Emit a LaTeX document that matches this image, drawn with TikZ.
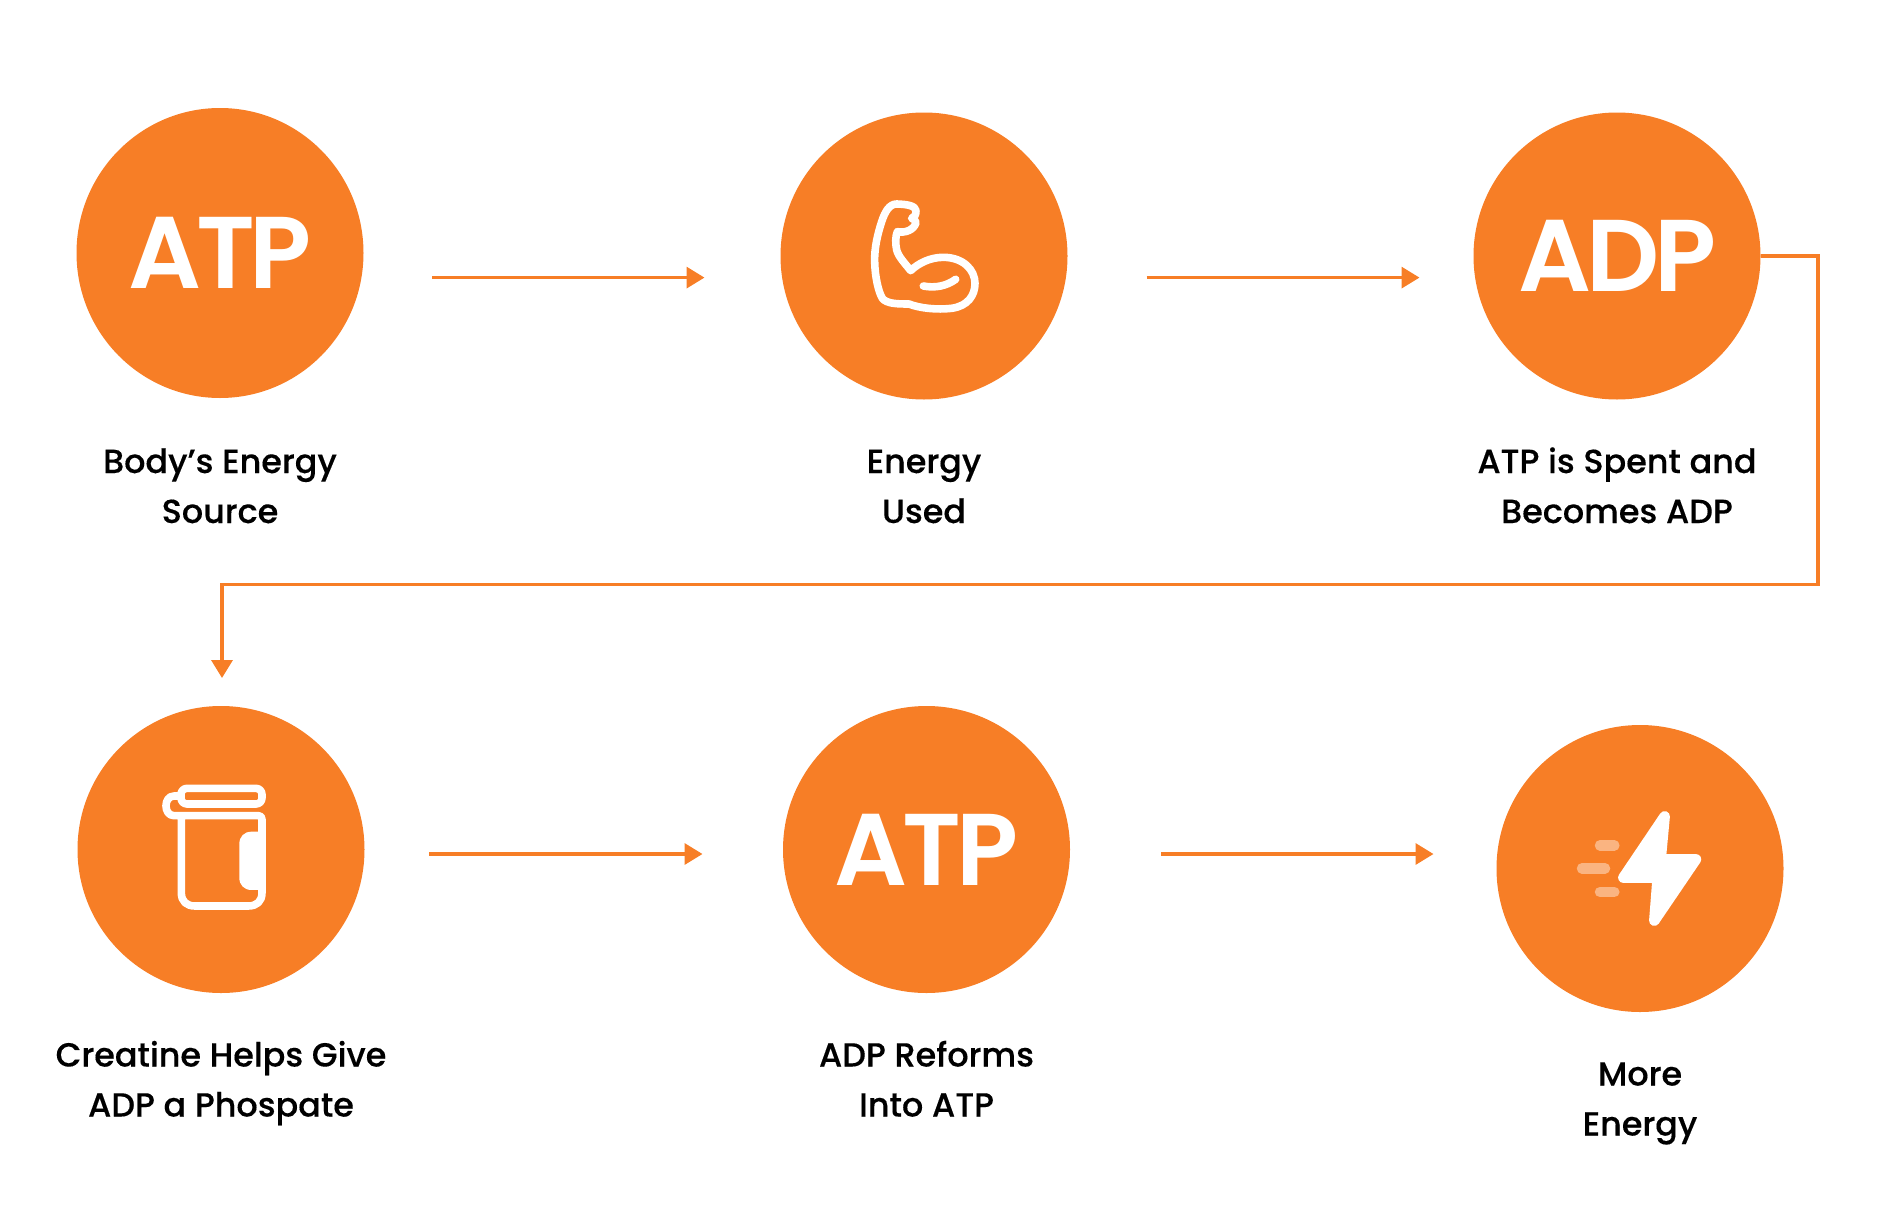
\documentclass[tikz,border=0pt]{standalone}
\usepackage{fontspec}
\setmainfont{Poppins}[Ligatures=TeX]
\newfontfamily\labfont{Poppins Medium}[FakeBold=0.25]
\newfontfamily\bigfont{Poppins SemiBold}[LetterSpace=-5]
\usetikzlibrary{arrows.meta,shapes.geometric}
\definecolor{brand}{HTML}{F77E26}
\tikzset{
 stepcircle/.style={ellipse,fill=brand,minimum width=287pt,minimum height=287pt,inner sep=0pt,text=white,font=\bigfont\fontsize{102}{102}\selectfont},
 lab/.style={align=center,text=black,inner sep=0pt,font=\labfont\fontsize{33.4}{50}\selectfont},
 flow/.style={draw=brand,line width=3.4pt,-{Triangle[length=18pt,width=21pt,fill=brand]}},
 icon/.style={draw=white,line width=7.6pt,line join=round,line cap=round},
}
\begin{document}
\begin{tikzpicture}[x=1pt,y=-1pt]
\useasboundingbox (0,0) rectangle (1904,1226);
\node[stepcircle,minimum height=290pt] (c1) at (220,253) {ATP};
\node[stepcircle] (c2) at (924,256) {};
\node[stepcircle] (c3) at (1617,256) {ADP};
\node[stepcircle] (c4) at (221,849.5) {};
\node[stepcircle] (c5) at (926.5,849.5) {ATP};
\node[stepcircle] (c6) at (1640,868.5) {};
\node[lab] (l1) at (220,488) {\strut Body’s Energy\\\strut Source};
\node[lab] (l2) at (924,488) {\strut Energy\\\strut Used};
\node[lab] (l3) at (1617,488) {\strut ATP is Spent and\\\strut Becomes ADP};
\node[lab] (l4) at (221,1081.5) {\strut Creatine Helps Give\\\strut ADP a Phospate};
\node[lab] (l5) at (926.5,1081.5) {\strut ADP Reforms\\\strut Into ATP};
\node[lab] (l6) at (1640,1100.5) {\strut More\\\strut Energy};
\coordinate (a1s) at (432,277.6); \coordinate (a1e) at (704.5,277.6);
\coordinate (a2s) at (1146.5,277.6); \coordinate (a2e) at (1419.5,277.6);
\coordinate (a4s) at (429,854); \coordinate (a4e) at (702.5,854);
\coordinate (a5s) at (1161,854); \coordinate (a5e) at (1433.5,854);
\coordinate (b1) at (1818,256); \coordinate (b2) at (1818,584.6);
\coordinate (b3) at (222,584.6); \coordinate (b4) at (222,678);
\draw[flow] (a1s) -- (a1e);
\draw[flow] (a2s) -- (a2e);
\draw[flow] (a4s) -- (a4e);
\draw[flow] (a5s) -- (a5e);
\draw[flow] (c3.east) -- (b1) -- (b2) -- (b3) -- (b4);
% muscle
\begin{scope}[shift={(840,180)},x=0.3333pt,y=-0.3333pt]
\draw[icon] (212,272) .. controls (195,250) and (175,230) .. (170,210)
 .. controls (166,190) and (166,170) .. (172,155)
 .. controls (195,160) and (222,150) .. (228,128)
 .. controls (228,122) and (222,118) .. (215,115)
 .. controls (224,112) and (228,105) .. (228,92)
 .. controls (226,78) and (205,73) .. (170,72)
 .. controls (148,72) and (135,95) .. (125,125)
 .. controls (112,165) and (103,205) .. (104,245)
 .. controls (105,290) and (115,335) .. (127,355)
 .. controls (140,372) and (175,372) .. (207,372)
 .. controls (240,385) and (290,390) .. (335,385)
 .. controls (385,378) and (405,345) .. (405,310)
 .. controls (405,270) and (370,232) .. (310,232)
 .. controls (270,232) and (235,250) .. (212,272) -- cycle;
\draw[icon] (250,318) .. controls (285,325) and (320,318) .. (347,298);
\end{scope}
% jar
\begin{scope}[shift={(150,770)},x=0.3333pt,y=-0.3333pt]
\draw[icon,rounded corners=6pt] (93,55) rectangle (336,102);
\draw[icon] (93,78) -- (72,78) .. controls (40,78) and (40,137) .. (72,137) -- (325,137)
 .. controls (332,137) and (336,141) .. (336,148) -- (336,368)
 .. controls (336,395) and (320,408) .. (295,408) -- (135,408)
 .. controls (110,408) and (94,395) .. (94,368) -- (94,137);
\fill[white] (336,185) -- (305,185) .. controls (282,185) and (268,200) .. (268,222) -- (268,323)
 .. controls (268,345) and (282,360) .. (305,360) -- (336,360) -- cycle;
\end{scope}
% bolt
\begin{scope}[shift={(1560,800)},x=0.3333pt,y=-0.3333pt]
\filldraw[draw=white,fill=white,line width=10.5pt,line join=round] (314,49) -- (302,178) -- (408,178) -- (283,362) -- (293,233) -- (190,233) -- cycle;
\draw[white,opacity=.42,line width=10.5pt,line cap=round] (120,136) -- (163,136);
\draw[white,opacity=.42,line width=10.5pt,line cap=round] (66,205) -- (135,205);
\draw[white,opacity=.42,line width=10.5pt,line cap=round] (120,276) -- (163,276);
\end{scope}
\end{tikzpicture}
\end{document}
